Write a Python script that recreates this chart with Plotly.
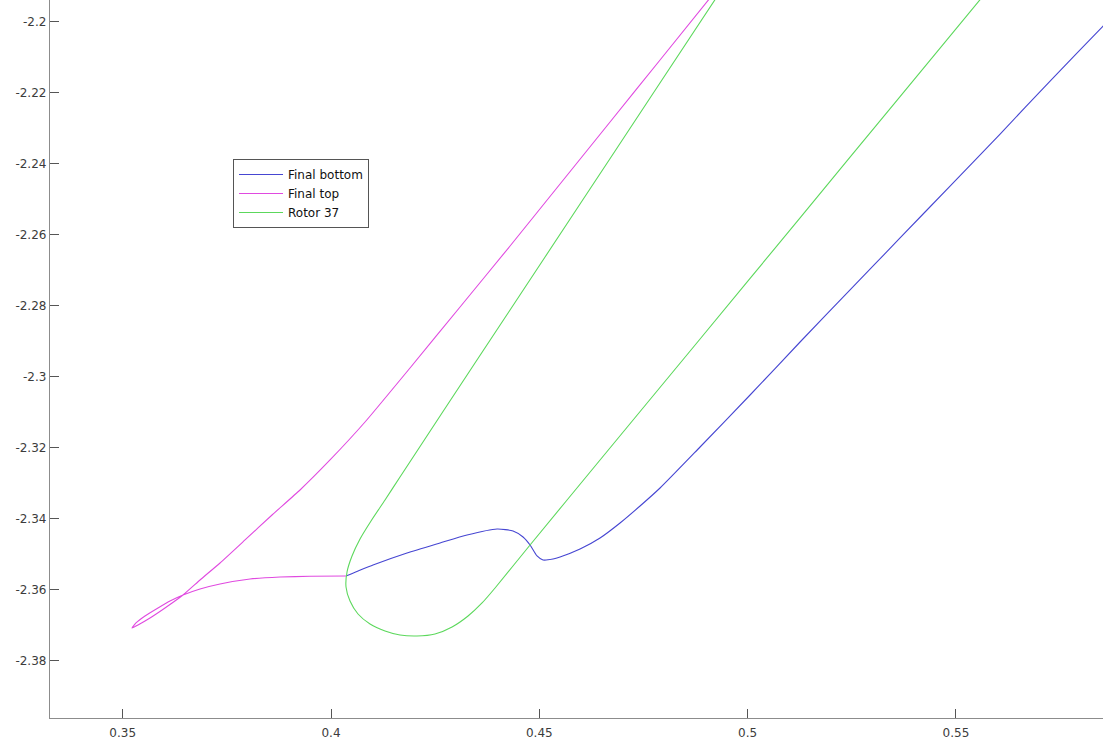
import plotly.graph_objects as go

# Blade section outlines (x, y)
final_top_x = [0.49290, 0.47897, 0.46697, 0.45497, 0.44297, 0.43097, 0.41896, 0.40816,
               0.39976, 0.39256, 0.38584, 0.37936, 0.37336, 0.36856, 0.36447, 0.36015,
               0.35655, 0.35367, 0.35223, 0.35319, 0.35535, 0.35847, 0.36135, 0.36447,
               0.36856, 0.37336, 0.38056, 0.38776, 0.39496, 0.40360]
final_top_y = [-2.19059, -2.21087, -2.22834, -2.24580, -2.26327, -2.28045, -2.29763, -2.31285,
               -2.32355, -2.33200, -2.33904, -2.34608, -2.35256, -2.35735, -2.36158, -2.36524,
               -2.36806, -2.37003, -2.37087, -2.36946, -2.36749, -2.36524, -2.36327, -2.36158,
               -2.35989, -2.35848, -2.35707, -2.35651, -2.35630, -2.35623]

final_bottom_x = [0.40360, 0.41008, 0.41824, 0.42617, 0.43265, 0.43985, 0.44369, 0.44609,
                  0.44777, 0.44945, 0.45089, 0.45329, 0.45497, 0.45977, 0.46457, 0.46937,
                  0.47417, 0.47897, 0.48858, 0.50058, 0.51258, 0.52458, 0.53658, 0.54858,
                  0.56059, 0.57259, 0.58531, 0.58819]
final_bottom_y = [-2.35623, -2.35313, -2.34975, -2.34693, -2.34468, -2.34299, -2.34355, -2.34524,
                  -2.34749, -2.35059, -2.35172, -2.35144, -2.35087, -2.34862, -2.34552, -2.34130,
                  -2.33651, -2.33144, -2.31989, -2.30524, -2.29031, -2.27566, -2.26101, -2.24637,
                  -2.23172, -2.21679, -2.20130, -2.19763]

rotor37_x = [0.49386, 0.47657, 0.45977, 0.44297, 0.42617, 0.41656, 0.41296, 0.40960, 0.40696,
             0.40504, 0.40384, 0.40360, 0.40456, 0.40648, 0.40936, 0.41296, 0.41656, 0.42064,
             0.42496, 0.42905, 0.43289, 0.43625, 0.43937, 0.44777, 0.46457, 0.48858, 0.51258,
             0.53658, 0.55770]
rotor37_y = [-2.19087, -2.22158, -2.25144, -2.28130, -2.31115, -2.32834, -2.33482, -2.34073,
             -2.34580, -2.35059, -2.35510, -2.35932, -2.36327, -2.36693, -2.36975, -2.37172,
             -2.37285, -2.37313, -2.37256, -2.37059, -2.36749, -2.36383, -2.35961, -2.34749,
             -2.32355, -2.28946, -2.25532, -2.22118, -2.19115]

x_ticks = [0.35, 0.4, 0.45, 0.5, 0.55]
x_tick_text = ["0.35", "0.4", "0.45", "0.5", "0.55"]
y_ticks = [-2.38, -2.36, -2.34, -2.32, -2.3, -2.28, -2.26, -2.24, -2.22, -2.2]
y_tick_text = ["-2.38", "-2.36", "-2.34", "-2.32", "-2.3", "-2.28", "-2.26", "-2.24", "-2.22", "-2.2"]

fig = go.Figure()
fig.add_trace(go.Scatter(x=final_bottom_x, y=final_bottom_y, mode="lines", name="Final bottom",
                         line=dict(color="#4646d2", width=1.1, shape="spline", smoothing=0.6)))
fig.add_trace(go.Scatter(x=final_top_x, y=final_top_y, mode="lines", name="Final top",
                         line=dict(color="#e04ae0", width=1.1, shape="spline", smoothing=0.4)))
fig.add_trace(go.Scatter(x=rotor37_x, y=rotor37_y, mode="lines", name="Rotor 37",
                         line=dict(color="#5cd85c", width=1.1, shape="spline", smoothing=0.6)))

axis_font = dict(family="DejaVu Sans, Verdana, sans-serif", size=12, color="#3c3c3c")
fig.update_layout(
    width=1103, height=742,
    margin=dict(l=50, r=0, t=0, b=24),
    paper_bgcolor="white", plot_bgcolor="white",
    showlegend=True,
    legend=dict(x=0.1738, y=0.7786, xanchor="left", yanchor="top",
                bgcolor="white", bordercolor="#555555", borderwidth=1,
                font=dict(family="DejaVu Sans, Verdana, sans-serif", size=12, color="#111111"),
                itemwidth=44, tracegroupgap=0),
)
fig.update_xaxes(range=[0.33255, 0.58529], tickvals=x_ticks, ticktext=x_tick_text,
                 ticks="inside", ticklen=9, tickcolor="#555555", showgrid=False, zeroline=False,
                 showline=True, linecolor="#8c8c8c", linewidth=1.3, tickfont=axis_font,
                 ticklabelstandoff=3)
fig.update_yaxes(range=[-2.39623, -2.19397], tickvals=y_ticks, ticktext=y_tick_text,
                 ticks="inside", ticklen=9, tickcolor="#555555", showgrid=False, zeroline=False,
                 showline=True, linecolor="#8c8c8c", linewidth=1.3, tickfont=axis_font,
                 ticklabelstandoff=0)

fig.write_html("out.html")
